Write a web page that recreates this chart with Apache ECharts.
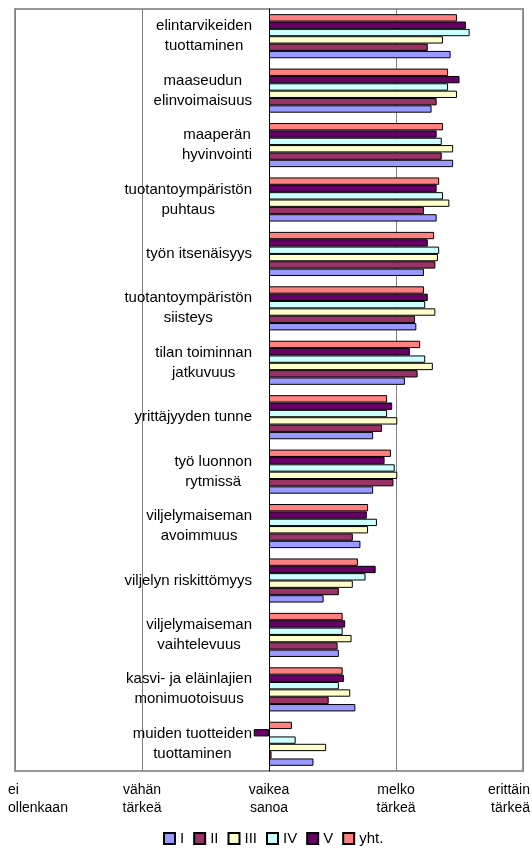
<!DOCTYPE html>
<html>
<head>
<meta charset="utf-8">
<script src="https://cdn.jsdelivr.net/npm/echarts@6.0.0/dist/echarts.min.js"></script>
<style>
  html, body { margin: 0; padding: 0; background: #fff; }
  #main { width: 532px; height: 850px; }
</style>
</head>
<body>
<div id="main"></div>
<script>
// kategoriat ylhäältä alas
const categories = [
  'elintarvikeiden\ntuottaminen',
  'maaseudun\nelinvoimaisuus',
  'maaperän\nhyvinvointi',
  'tuotantoympäristön\npuhtaus',
  'työn itsenäisyys',
  'tuotantoympäristön\nsiisteys',
  'tilan toiminnan\njatkuvuus',
  'yrittäjyyden tunne',
  'työ luonnon\nrytmissä',
  'viljelymaiseman\navoimmuus',
  'viljelyn riskittömyys',
  'viljelymaiseman\nvaihtelevuus',
  'kasvi- ja eläinlajien\nmonimuotoisuus',
  'muiden tuotteiden\ntuottaminen'
];

// asteikko -2..2, tekstit arvojen kohdalle
const xLabels = ['ei\nollenkaan', 'vähän\ntärkeä', 'vaikea\nsanoa', 'melko\ntärkeä', 'erittäin\ntärkeä'];

const seriesNames = ['I', 'II', 'III', 'IV', 'V', 'yht.'];

const valuesI   = [1.43, 1.28, 1.45, 1.32, 1.22, 1.16, 1.07, 0.82, 0.82, 0.72, 0.43, 0.55, 0.68, 0.35];
const valuesII  = [1.25, 1.32, 1.36, 1.22, 1.31, 1.15, 1.17, 0.89, 0.98, 0.66, 0.55, 0.54, 0.47, 0.02];
const valuesIII = [1.37, 1.48, 1.45, 1.42, 1.33, 1.31, 1.29, 1.01, 1.01, 0.78, 0.66, 0.65, 0.64, 0.45];
const valuesIV  = [1.58, 1.41, 1.36, 1.37, 1.34, 1.23, 1.23, 0.93, 0.99, 0.85, 0.76, 0.58, 0.55, 0.21];
const valuesV   = [1.55, 1.50, 1.32, 1.32, 1.25, 1.25, 1.11, 0.97, 0.91, 0.77, 0.84, 0.60, 0.59, -0.12];
const valuesYht = [1.48, 1.41, 1.37, 1.34, 1.30, 1.22, 1.19, 0.93, 0.96, 0.78, 0.70, 0.58, 0.58, 0.18];

const colors = {
  'I': '#9999ff',
  'II': '#993366',
  'III': '#ffffcc',
  'IV': '#ccffff',
  'V': '#660066',
  'yht.': '#ff8080'
};

// reunimmaiset x-tekstit siirretään hieman ulospäin (kuten Excelissä)
const ctx = document.createElement('canvas').getContext('2d');
ctx.font = '14px "Liberation Sans", Arial, sans-serif';
const widest = (s) => Math.max(...s.split('\n').map(t => ctx.measureText(t).width));
const padL = Math.max(0, widest(xLabels[0]) - 14);
const padR = Math.max(0, widest(xLabels[4]) - 14);

const makeBar = (name, data) => ({
  name,
  type: 'bar',
  data,
  barGap: 0,
  barCategoryGap: '19%',
  itemStyle: { color: colors[name], borderColor: '#000', borderWidth: 1 }
});

const myChart = echarts.init(document.getElementById('main'));
const option = {
  animation: false,
  textStyle: { fontFamily: '"Liberation Sans", Arial, sans-serif', color: '#000' },
  grid: {
    left: 15, right: 9, top: 9, bottom: 79,
    outerBoundsMode: 'none',
    show: true, borderColor: '#999', borderWidth: 2
  },
  legend: {
    data: seriesNames,
    left: 158,
    top: 826,
    icon: 'rect',
    itemWidth: 11,
    itemHeight: 11,
    itemGap: 9,
    textStyle: { fontSize: 15, color: '#000' }
  },
  xAxis: {
    type: 'value',
    min: -2,
    max: 2,
    interval: 1,
    axisLine: { show: false },
    axisTick: { show: false },
    splitLine: { lineStyle: { color: '#808080', width: 1 } },
    axisLabel: {
      margin: 10,
      fontSize: 14,
      lineHeight: 18,
      color: '#000',
      formatter: (val) => {
        const i = Math.round(val) + 2;
        const lines = xLabels[i].split('\n');
        if (i === 0) return lines.map(s => '{l|' + s + '}').join('\n');
        if (i === 4) return lines.map(s => '{r|' + s + '}').join('\n');
        return xLabels[i];
      },
      rich: {
        l: { align: 'left', padding: [0, 0, 0, padL], fontSize: 14, lineHeight: 18 },
        r: { align: 'right', padding: [0, padR, 0, 0], fontSize: 14, lineHeight: 18 }
      }
    }
  },
  yAxis: {
    type: 'category',
    inverse: true,
    data: categories,
    // akseli arvon 0 kohdalle (x = 269)
    offset: -254,
    axisLine: { onZero: false, lineStyle: { color: '#000', width: 1 } },
    axisTick: { length: 6, lineStyle: { color: '#000' } },
    axisLabel: {
      align: 'right',
      margin: 17,
      color: '#000',
      fontSize: 15,
      lineHeight: 20,
      // rivit keskitetään tekstilaatikon sisällä
      formatter: (val) => val.split('\n').map(s => '{c|' + s + '}').join('\n'),
      rich: { c: { align: 'center', fontSize: 15, lineHeight: 20 } }
    }
  },
  // ylin palkki = yht., alin = I
  series: [
    makeBar('yht.', valuesYht),
    makeBar('V', valuesV),
    makeBar('IV', valuesIV),
    makeBar('III', valuesIII),
    makeBar('II', valuesII),
    makeBar('I', valuesI)
  ]
};
myChart.setOption(option);
</script>
</body>
</html>
